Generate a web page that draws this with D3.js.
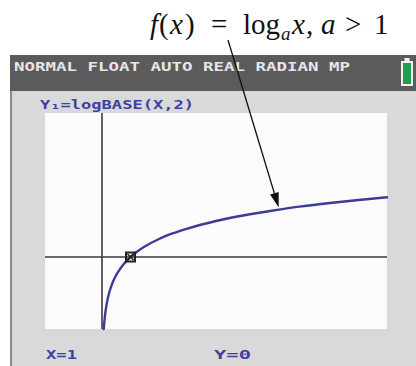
<!DOCTYPE html>
<html>
<head>
<meta charset="utf-8">
<script src="https://cdn.jsdelivr.net/npm/d3@7"></script>
<style>
  html, body { margin: 0; padding: 0; background: #ffffff; }
  svg { display: block; }
</style>
</head>
<body>
<svg id="chart" width="416" height="366"></svg>
<script>
// Graph window (TI-84 style): Xmin..Xmax, Ymin..Ymax
const xWindow = [-2, 10];
const yWindow = [-4, 8];

// Sampled points of Y1 = logBASE(X,2)
const curveX = [0.0625, 0.08, 0.1, 0.125, 0.15, 0.2, 0.25, 0.3, 0.4, 0.5, 0.6, 0.75, 1, 1.25, 1.5, 2, 2.5, 3, 4, 5, 6, 7, 8, 9, 10];
const curveY = [-4, -3.64, -3.32, -3, -2.74, -2.32, -2, -1.74, -1.32, -1, -0.74, -0.415, 0, 0.32, 0.58, 1, 1.32, 1.58, 2, 2.32, 2.58, 2.81, 3, 3.17, 3.32];

// Trace cursor position and readouts
const tracePoint = [1, 0];
const statusText = "NORMAL FLOAT AUTO REAL RADIAN MP";
const equationText = "Y\u2081=logBASE(X,2)";
const traceXText = "X=1";
const traceYText = "Y=0";

const svg = d3.select("#chart");

// Calculator screen frame
svg.append("rect").attr("x", 10).attr("y", 55).attr("width", 406).attr("height", 311).attr("fill", "#d9d9d9");
svg.append("line").attr("x1", 11).attr("x2", 11).attr("y1", 55).attr("y2", 366)
  .attr("stroke", "#8a8a8a").attr("stroke-width", 2);

// Status bar
svg.append("rect").attr("x", 10).attr("y", 55).attr("width", 406).attr("height", 36).attr("fill", "#5b5b5b");
svg.append("text").text(statusText)
  .attr("x", 14).attr("y", 71)
  .attr("font-family", "DejaVu Sans Mono").attr("font-weight", "bold").attr("font-size", 13)
  .attr("textLength", 336).attr("lengthAdjust", "spacingAndGlyphs")
  .attr("fill", "#e6e6e6");

// Battery indicator
svg.append("rect").attr("x", 402).attr("y", 62).attr("width", 10).attr("height", 23)
  .attr("fill", "#1e9e4c").attr("stroke", "#f2f2f2").attr("stroke-width", 2);
svg.append("rect").attr("x", 404.5).attr("y", 58).attr("width", 5).attr("height", 4).attr("fill", "#f2f2f2");

// Plot area
const plot = { left: 45, right: 387, top: 113, bottom: 329 };
svg.append("rect").attr("x", plot.left).attr("y", plot.top)
  .attr("width", plot.right - plot.left).attr("height", plot.bottom - plot.top)
  .attr("fill", "#fbfbfb");

const x = d3.scaleLinear().domain(xWindow).range([plot.left, plot.right]);
const y = d3.scaleLinear().domain(yWindow).range([plot.bottom, plot.top]);

// Axes through the origin
svg.append("line").attr("x1", x(xWindow[0])).attr("x2", x(xWindow[1])).attr("y1", y(0)).attr("y2", y(0))
  .attr("stroke", "#3a3a3a").attr("stroke-width", 1.6);
svg.append("line").attr("x1", x(0)).attr("x2", x(0)).attr("y1", y(yWindow[0])).attr("y2", y(yWindow[1]))
  .attr("stroke", "#3a3a3a").attr("stroke-width", 1.6);

// Equation label
svg.append("text").text(equationText)
  .attr("x", 40).attr("y", 109)
  .attr("font-family", "DejaVu Sans Mono").attr("font-weight", "bold").attr("font-size", 13)
  .attr("textLength", 154).attr("lengthAdjust", "spacingAndGlyphs")
  .attr("fill", "#3b3fa6");

// The function curve
const pts = curveX.map((v, i) => [v, curveY[i]]);
svg.append("path").datum(pts)
  .attr("d", d3.line().x(d => x(d[0])).y(d => y(d[1])).curve(d3.curveMonotoneX))
  .attr("fill", "none").attr("stroke", "#3d3b95").attr("stroke-width", 2.4)
  .attr("stroke-linecap", "round");

// Trace cursor
const cx = x(tracePoint[0]), cy = y(tracePoint[1]);
svg.append("rect").attr("x", cx - 4.5).attr("y", cy - 4.5).attr("width", 9).attr("height", 9)
  .attr("fill", "none").attr("stroke", "#222").attr("stroke-width", 2);
svg.append("path").attr("d", `M${cx - 3},${cy - 3}L${cx + 3},${cy + 3}M${cx + 3},${cy - 3}L${cx - 3},${cy + 3}`)
  .attr("stroke", "#222").attr("stroke-width", 1.5);

// Trace readouts
svg.append("text").text(traceXText)
  .attr("x", 46).attr("y", 359)
  .attr("font-family", "DejaVu Sans Mono").attr("font-weight", "bold").attr("font-size", 13)
  .attr("textLength", 31).attr("lengthAdjust", "spacingAndGlyphs")
  .attr("fill", "#3b3fa6");
svg.append("text").text(traceYText)
  .attr("x", 214).attr("y", 359)
  .attr("font-family", "DejaVu Sans Mono").attr("font-weight", "bold").attr("font-size", 13)
  .attr("textLength", 37).attr("lengthAdjust", "spacingAndGlyphs")
  .attr("fill", "#3b3fa6");

// Caption, typeset piece by piece, with an arrow pointing at the curve
const caption = svg.append("text")
  .attr("font-family", "Liberation Serif").attr("fill", "#111");
const pieces = [
  { t: "f", x: 150, it: true },
  { t: "(", x: 159 },
  { t: "x", x: 170, it: true },
  { t: ")", x: 185 },
  { t: "=", x: 211 },
  { t: "log", x: 243 },
  { t: "a", x: 281, it: true, sub: true },
  { t: "x", x: 292, it: true },
  { t: ",", x: 306 },
  { t: "a", x: 321, it: true },
  { t: ">", x: 345 },
  { t: "1", x: 374 }
];
pieces.forEach(p => {
  caption.append("tspan")
    .attr("x", p.x).attr("y", p.sub ? 40 : 34)
    .attr("font-style", p.it ? "italic" : "normal")
    .attr("font-size", p.sub ? 19 : 29)
    .text(p.t);
});

const arrowTipX = 6.2;
const tip = [x(arrowTipX), y(Math.log2(arrowTipX)) - 2];
const start = [228, 40];
const ang = Math.atan2(tip[1] - start[1], tip[0] - start[0]);
const headLen = 15, headW = 4.5;
const baseX = tip[0] - headLen * Math.cos(ang), baseY = tip[1] - headLen * Math.sin(ang);
svg.append("line").attr("x1", start[0]).attr("y1", start[1]).attr("x2", baseX).attr("y2", baseY)
  .attr("stroke", "#111").attr("stroke-width", 1.3);
svg.append("path")
  .attr("d", `M${tip[0]},${tip[1]}L${baseX + headW * Math.sin(ang)},${baseY - headW * Math.cos(ang)}L${baseX - headW * Math.sin(ang)},${baseY + headW * Math.cos(ang)}Z`)
  .attr("fill", "#111");
</script>
</body>
</html>
